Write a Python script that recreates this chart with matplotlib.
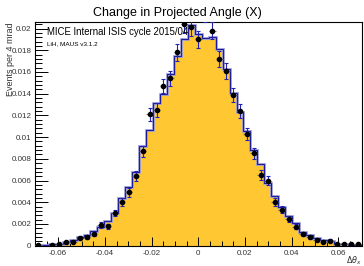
import numpy as np
import matplotlib
matplotlib.use('Agg')
import matplotlib.pyplot as plt
from matplotlib.ticker import MultipleLocator, FuncFormatter

plt.rcParams['font.family'] = ['Liberation Sans', 'DejaVu Sans']
plt.rcParams['axes.unicode_minus'] = False

# 直方图分箱: -0.07 .. 0.07, 47 bins
X_MIN, X_MAX, N_BINS = -0.07, 0.07, 47

# MC (yellow histogram)
mc_vals = [0.00005, 0.00008, 0.00012, 0.0002, 0.0003, 0.0005, 0.0008, 0.0010,
           0.0014, 0.0017, 0.0023, 0.0030, 0.0044, 0.0054, 0.0068, 0.0092,
           0.0107, 0.0131, 0.0140, 0.0158, 0.0175, 0.0190, 0.0203, 0.0195,
           0.0191, 0.0192, 0.0181, 0.0163, 0.0141, 0.0123, 0.0106, 0.0088,
           0.0075, 0.0058, 0.0046, 0.0036, 0.0027, 0.0021, 0.0013, 0.0010,
           0.0007, 0.0005, 0.0004, 0.0002, 0.00012, 0.0001, 0.00008]

# data points (NaN = empty bin)
data_vals = [0.00005, np.nan, 0.00005, 0.0002, 0.0003, 0.00035, 0.00075, 0.0008,
             0.0011, 0.0019, 0.0018, 0.0030, 0.0040, 0.0049, 0.0064, 0.0087,
             0.0121, 0.0125, 0.0147, 0.0154, 0.0178, 0.0204, 0.0201, 0.0190,
             0.0214, 0.0198, 0.0172, 0.0161, 0.0139, 0.0124, 0.0103, 0.0085,
             0.0065, 0.0060, 0.0040, 0.0033, 0.0025, 0.00175, 0.0011, 0.00077,
             0.00055, 0.00034, 0.00046, 0.0002, 0.00013, 0.00013, 0.00013]

data_errs = [0.00004, np.nan, 0.00004, 0.00008, 0.0001, 0.000105, 0.00015, 0.00016,
             0.00019, 0.00024, 0.00024, 0.00031, 0.00035, 0.00039, 0.00045, 0.00052,
             0.00062, 0.00063, 0.00068, 0.0007, 0.00075, 0.0008, 0.00079, 0.00077,
             0.00082, 0.00079, 0.00073, 0.00071, 0.00066, 0.00062, 0.00057, 0.00052,
             0.00045, 0.00043, 0.00035, 0.00032, 0.00028, 0.00023, 0.00019, 0.00016,
             0.00013, 0.0001, 0.00012, 0.00008, 0.00006, 0.00006, 0.00006]

edges = np.linspace(X_MIN, X_MAX, N_BINS + 1)
centers = 0.5 * (edges[:-1] + edges[1:])
half_w = 0.5 * (edges[1] - edges[0])

fig = plt.figure(figsize=(3.64, 2.66), dpi=100)
ax = fig.add_axes([0.0957, 0.0763, 0.898, 0.841])

# MC histogram
ax.stairs(mc_vals, edges, fill=True, color='#ffc832', zorder=1)
ax.stairs(mc_vals, edges, color='#a0a0d8', lw=2.0, zorder=2)
ax.stairs(mc_vals, edges, color='#1c1c9a', lw=0.8, zorder=3)

# data
ax.errorbar(centers, data_vals, xerr=half_w, fmt='none', ecolor='#707070',
            elinewidth=0.8, zorder=4)
ax.errorbar(centers, data_vals, yerr=data_errs, fmt='none', ecolor='#2424b0',
            elinewidth=0.8, capsize=1.2, capthick=0.8, zorder=5)
ax.plot(centers, data_vals, 'o', color='black', ms=3.0, zorder=6)

ax.set_xlim(X_MIN, X_MAX)
ax.set_ylim(0, 0.0206)

ax.xaxis.set_major_locator(MultipleLocator(0.02))
ax.xaxis.set_minor_locator(MultipleLocator(0.005))
ax.yaxis.set_major_locator(MultipleLocator(0.002))
ax.yaxis.set_minor_locator(MultipleLocator(0.0004))
fmt = FuncFormatter(lambda v, p: '0' if abs(v) < 1e-9 else ('%g' % round(v, 4)))
ax.xaxis.set_major_formatter(fmt)
ax.yaxis.set_major_formatter(fmt)

ax.tick_params(which='both', direction='in', top=False, right=False,
               labelsize=5.8, labelcolor='#333333', width=0.7)
ax.tick_params(axis='x', which='major', length=6.5, pad=3)
ax.tick_params(axis='x', which='minor', length=3.3)
ax.tick_params(axis='y', which='major', length=9, pad=2.5)
ax.tick_params(axis='y', which='minor', length=5)
for sp in ax.spines.values():
    sp.set_linewidth(0.8)

fig.text(0.488, 0.952, 'Change in Projected Angle (X)', ha='center', va='center',
         fontsize=9)
fig.text(0.128, 0.881, 'MICE Internal ISIS cycle 2015/04', ha='left', va='center',
         fontsize=6.9, zorder=10)
fig.text(0.128, 0.837, 'LiH, MAUS v3.1.2', ha='left', va='center', fontsize=4.6,
         zorder=10)
fig.text(0.029, 0.917, 'Events per 4 mrad', rotation=90, ha='center', va='top',
         fontsize=6.5, color='#333333')
fig.text(0.972, 0.019, r'$\Delta\theta_{x}$', ha='center', va='center',
         fontsize=5.8, color='#333333')

fig.savefig('out.png', dpi=100)
